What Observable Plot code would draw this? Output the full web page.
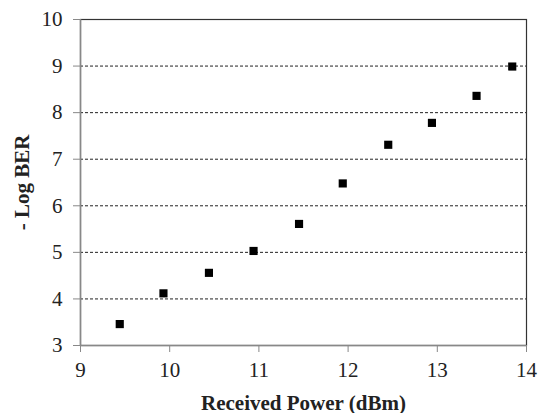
<!DOCTYPE html>
<html>
<head>
<meta charset="utf-8">
<script src="https://cdn.jsdelivr.net/npm/d3@7"></script>
<script src="https://cdn.jsdelivr.net/npm/@observablehq/plot@0.6"></script>
<style>
  html, body { margin: 0; padding: 0; background: #fff; }
  svg text { font-family: 'Liberation Serif', 'Times New Roman', serif; }
</style>
</head>
<body>
<div id="chart"></div>
<script>
const power = [9.44, 9.93, 10.44, 10.94, 11.45, 11.94, 12.45, 12.94, 13.44, 13.84];
const logBER = [3.46, 4.12, 4.56, 5.03, 5.61, 6.48, 7.31, 7.78, 8.36, 8.99];
const xTicks = [9, 10, 11, 12, 13, 14];
const yTicks = [3, 4, 5, 6, 7, 8, 9, 10];
const gridTicks = [4, 5, 6, 7, 8, 9];
const xTitle = "Received Power (dBm)";
const yTitle = "- Log BER";

const data = power.map((p, i) => ({x: p, y: logBER[i]}));
const font = "'Liberation Serif', 'Times New Roman', serif";

const chart = Plot.plot({
  width: 538,
  height: 413,
  marginLeft: 80,
  marginRight: 12,
  marginTop: 19,
  marginBottom: 68,
  style: {fontFamily: font, fontSize: "21px", color: "#222", background: "#fff"},
  x: {domain: [9, 14]},
  y: {domain: [3, 10]},
  marks: [
    Plot.ruleY(gridTicks, {stroke: "#222", strokeWidth: 1, strokeDasharray: "3,2"}),
    Plot.frame({stroke: "#333", strokeWidth: 1.2}),
    Plot.ruleX([9], {stroke: "#888", strokeWidth: 1.5}),
    Plot.ruleY([3], {stroke: "#888", strokeWidth: 1.5}),
    Plot.axisX({ticks: xTicks, tickFormat: "d", tickSize: 7, tickPadding: 10, stroke: "#888", label: null, fontSize: 21, fontFamily: font, fontVariant: "normal"}),
    Plot.axisY({ticks: yTicks, tickFormat: "d", tickSize: 7, tickPadding: 11, stroke: "#888", label: null, fontSize: 21, fontFamily: font, fontVariant: "normal"}),
    Plot.text([xTitle], {frameAnchor: "bottom", dy: 64, lineAnchor: "bottom", textAnchor: "middle", fontWeight: "bold", fontSize: 21, fontFamily: font, fill: "#222"}),
    Plot.text([yTitle], {frameAnchor: "left", dx: -58, rotate: -90, lineAnchor: "middle", textAnchor: "middle", fontWeight: "bold", fontSize: 21, fontFamily: font, fill: "#222"}),
    Plot.dot(data, {x: "x", y: "y", symbol: "square", r: 4.6, fill: "#000", stroke: "none"})
  ]
});
document.getElementById("chart").appendChild(chart);
</script>
</body>
</html>
